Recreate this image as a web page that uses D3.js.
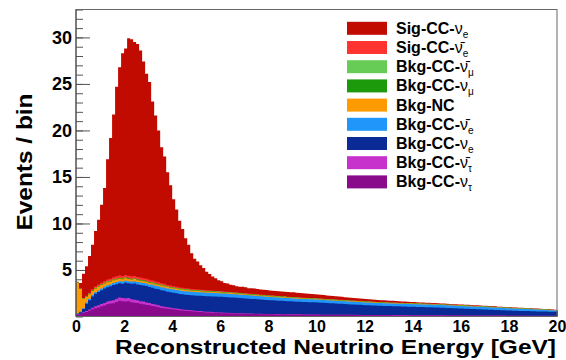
<!DOCTYPE html>
<html>
<head>
<meta charset="utf-8">
<script src="https://cdn.jsdelivr.net/npm/d3@7"></script>
<style>
  body { margin: 0; background: #fff; }
  text { font-family: "Liberation Sans", Arial, Helvetica, sans-serif; font-weight: bold; fill: #000; }
</style>
</head>
<body>
<div id="chart"></div>
<script>
// data: 160 bins of 0.125 GeV, 0 - 20 GeV, stacked from bottom (tau) to top (sig nue)
const binWidth = 0.125;
const xTicks = [0, 2, 4, 6, 8, 10, 12, 14, 16, 18, 20];
const yTicks = [5, 10, 15, 20, 25, 30];

const tau = [
  0.2,0.25,0.37,0.49,0.62,0.78,0.9,0.98,1.1,1.19,1.31,1.39,1.43,1.56,1.68,1.64,1.6,1.64,1.52,1.48,
  1.44,1.36,1.32,1.24,1.2,1.12,1.08,1.0,0.92,0.88,0.84,0.8,0.76,0.72,0.68,0.64,0.62,0.6,0.57,0.53,
  0.51,0.49,0.47,0.44,0.43,0.41,0.39,0.37,0.36,0.34,0.34,0.32,0.31,0.31,0.3,0.29,0.28,0.27,0.26,0.26,
  0.26,0.25,0.24,0.24,0.23,0.23,0.22,0.22,0.21,0.21,0.2,0.2,0.2,0.2,0.2,0.19,0.19,0.19,0.18,0.18,
  0.18,0.17,0.17,0.17,0.17,0.16,0.16,0.16,0.16,0.15,0.15,0.15,0.15,0.15,0.14,0.14,0.14,0.14,0.14,0.13,
  0.13,0.13,0.13,0.13,0.13,0.12,0.12,0.12,0.12,0.12,0.12,0.12,0.12,0.12,0.12,0.12,0.12,0.11,0.11,0.11,
  0.11,0.11,0.11,0.1,0.1,0.1,0.1,0.1,0.1,0.09,0.09,0.09,0.09,0.09,0.09,0.08,0.08,0.08,0.08,0.08,
  0.08,0.08,0.08,0.07,0.07,0.07,0.07,0.07,0.07,0.07,0.06,0.06,0.06,0.06,0.06,0.06,0.06,0.05,0.05,0.05
];
const tauBar = [
  0.05,0.05,0.08,0.11,0.13,0.17,0.2,0.22,0.25,0.26,0.29,0.31,0.32,0.34,0.37,0.36,0.35,0.36,0.33,0.32,
  0.31,0.29,0.28,0.26,0.25,0.23,0.22,0.2,0.18,0.17,0.16,0.15,0.14,0.13,0.12,0.11,0.1,0.1,0.09,0.09,
  0.09,0.09,0.08,0.08,0.07,0.07,0.07,0.07,0.06,0.06,0.06,0.06,0.06,0.05,0.05,0.05,0.05,0.05,0.05,0.04,
  0.04,0.04,0.04,0.04,0.04,0.04,0.04,0.04,0.04,0.04,0.04,0.04,0.03,0.03,0.03,0.03,0.03,0.03,0.03,0.03,
  0.03,0.03,0.03,0.03,0.03,0.03,0.03,0.03,0.03,0.03,0.03,0.03,0.03,0.03,0.03,0.03,0.03,0.03,0.03,0.03,
  0.03,0.03,0.03,0.03,0.03,0.03,0.03,0.03,0.03,0.03,0.03,0.02,0.02,0.02,0.02,0.02,0.02,0.02,0.02,0.02,
  0.02,0.02,0.02,0.02,0.02,0.02,0.02,0.02,0.02,0.02,0.02,0.02,0.02,0.02,0.02,0.02,0.02,0.02,0.02,0.02,
  0.02,0.02,0.02,0.02,0.02,0.02,0.02,0.02,0.02,0.02,0.02,0.02,0.02,0.02,0.02,0.02,0.02,0.02,0.02,0.02
];
const nue = [
  0.05,0.17,0.35,0.78,1.01,1.2,1.34,1.43,1.47,1.56,1.55,1.55,1.64,1.58,1.53,1.53,1.67,1.57,1.67,1.76,
  1.7,1.74,1.73,1.77,1.71,1.75,1.69,1.73,1.72,1.71,1.65,1.65,1.64,1.64,1.63,1.63,1.63,1.62,1.62,1.64,
  1.64,1.64,1.65,1.66,1.67,1.67,1.68,1.68,1.69,1.69,1.67,1.67,1.66,1.65,1.64,1.63,1.61,1.6,1.58,1.57,
  1.55,1.54,1.52,1.5,1.48,1.47,1.46,1.44,1.43,1.41,1.41,1.39,1.38,1.36,1.35,1.34,1.33,1.32,1.33,1.32,
  1.3,1.29,1.27,1.25,1.23,1.23,1.21,1.19,1.17,1.16,1.14,1.12,1.1,1.09,1.08,1.07,1.05,1.04,1.02,1.01,
  1.0,0.99,0.98,0.97,0.96,0.96,0.95,0.94,0.93,0.92,0.91,0.91,0.9,0.89,0.88,0.87,0.86,0.87,0.86,0.85,
  0.84,0.82,0.81,0.8,0.79,0.77,0.76,0.74,0.74,0.73,0.72,0.7,0.69,0.67,0.66,0.66,0.65,0.63,0.62,0.6,
  0.59,0.57,0.57,0.56,0.55,0.54,0.53,0.51,0.51,0.49,0.5,0.48,0.48,0.47,0.46,0.46,0.45,0.45,0.44,0.43
];
const nueBar = [
  0.05,0.08,0.1,0.12,0.14,0.15,0.16,0.17,0.18,0.19,0.2,0.2,0.21,0.22,0.22,0.22,0.23,0.23,0.23,0.24,
  0.25,0.26,0.27,0.28,0.29,0.3,0.31,0.32,0.33,0.34,0.35,0.35,0.36,0.36,0.37,0.37,0.37,0.38,0.38,0.38,
  0.38,0.38,0.38,0.38,0.38,0.38,0.38,0.38,0.37,0.37,0.37,0.37,0.37,0.37,0.36,0.36,0.36,0.36,0.36,0.36,
  0.35,0.35,0.35,0.35,0.35,0.34,0.34,0.34,0.34,0.34,0.33,0.33,0.33,0.33,0.32,0.32,0.32,0.32,0.31,0.31,
  0.31,0.31,0.31,0.31,0.31,0.3,0.3,0.3,0.3,0.3,0.3,0.3,0.3,0.3,0.3,0.29,0.29,0.29,0.29,0.29,
  0.29,0.29,0.29,0.29,0.29,0.29,0.29,0.29,0.29,0.29,0.29,0.29,0.29,0.29,0.29,0.29,0.29,0.28,0.28,0.28,
  0.28,0.28,0.28,0.28,0.28,0.28,0.28,0.28,0.27,0.27,0.27,0.27,0.27,0.27,0.27,0.26,0.26,0.26,0.26,0.26,
  0.26,0.26,0.25,0.25,0.25,0.24,0.24,0.24,0.23,0.23,0.22,0.22,0.21,0.2,0.19,0.18,0.17,0.16,0.15,0.14
];
const nc = [
  3.3,2.4,1.0,0.6,0.5,0.45,0.42,0.4,0.38,0.35,0.33,0.3,0.3,0.28,0.27,0.26,0.25,0.24,0.23,0.22,
  0.21,0.2,0.2,0.19,0.19,0.18,0.18,0.17,0.17,0.16,0.16,0.15,0.15,0.15,0.14,0.14,0.14,0.13,0.13,0.13,
  0.13,0.12,0.12,0.12,0.12,0.11,0.11,0.11,0.11,0.1,0.1,0.1,0.1,0.1,0.09,0.09,0.09,0.09,0.09,0.09,
  0.08,0.08,0.08,0.08,0.08,0.08,0.08,0.08,0.08,0.08,0.07,0.07,0.07,0.07,0.07,0.07,0.07,0.07,0.07,0.07,
  0.06,0.06,0.06,0.06,0.06,0.06,0.06,0.06,0.06,0.06,0.06,0.06,0.06,0.06,0.06,0.06,0.06,0.06,0.06,0.06,
  0.05,0.05,0.05,0.05,0.05,0.05,0.05,0.05,0.05,0.05,0.05,0.05,0.05,0.05,0.05,0.05,0.05,0.05,0.05,0.05,
  0.04,0.04,0.04,0.04,0.04,0.04,0.04,0.04,0.04,0.04,0.04,0.04,0.04,0.04,0.04,0.04,0.04,0.04,0.04,0.04,
  0.03,0.03,0.03,0.03,0.03,0.03,0.03,0.03,0.03,0.03,0.03,0.03,0.03,0.03,0.03,0.03,0.03,0.03,0.03,0.03
];
const numu = [
  0.02,0.03,0.03,0.04,0.04,0.04,0.05,0.05,0.05,0.05,0.05,0.06,0.06,0.06,0.06,0.06,0.06,0.06,0.06,0.06,
  0.06,0.06,0.06,0.06,0.06,0.06,0.06,0.06,0.06,0.06,0.05,0.05,0.05,0.05,0.05,0.05,0.05,0.05,0.05,0.05,
  0.05,0.05,0.05,0.05,0.05,0.05,0.05,0.05,0.05,0.05,0.04,0.04,0.04,0.04,0.04,0.04,0.04,0.04,0.04,0.04,
  0.04,0.04,0.04,0.04,0.04,0.04,0.04,0.04,0.04,0.04,0.03,0.03,0.03,0.03,0.03,0.03,0.03,0.03,0.03,0.03,
  0.03,0.03,0.03,0.03,0.03,0.03,0.03,0.03,0.03,0.03,0.03,0.03,0.03,0.03,0.03,0.03,0.03,0.03,0.03,0.03,
  0.02,0.02,0.02,0.02,0.02,0.02,0.02,0.02,0.02,0.02,0.02,0.02,0.02,0.02,0.02,0.02,0.02,0.02,0.02,0.02,
  0.02,0.02,0.02,0.02,0.02,0.02,0.02,0.02,0.02,0.02,0.02,0.02,0.02,0.02,0.02,0.02,0.02,0.02,0.02,0.02,
  0.01,0.01,0.01,0.01,0.01,0.01,0.01,0.01,0.01,0.01,0.01,0.01,0.01,0.01,0.01,0.01,0.01,0.01,0.01,0.01
];
const numuBar = [
  0.01,0.01,0.01,0.01,0.01,0.01,0.02,0.02,0.02,0.02,0.02,0.02,0.02,0.02,0.02,0.02,0.02,0.02,0.02,0.02,
  0.02,0.02,0.02,0.02,0.02,0.02,0.02,0.02,0.02,0.02,0.02,0.02,0.02,0.02,0.02,0.02,0.02,0.02,0.02,0.02,
  0.02,0.02,0.02,0.02,0.02,0.02,0.02,0.02,0.02,0.02,0.02,0.02,0.02,0.02,0.02,0.02,0.02,0.02,0.02,0.02,
  0.02,0.02,0.02,0.02,0.02,0.02,0.02,0.02,0.02,0.02,0.01,0.01,0.01,0.01,0.01,0.01,0.01,0.01,0.01,0.01,
  0.01,0.01,0.01,0.01,0.01,0.01,0.01,0.01,0.01,0.01,0.01,0.01,0.01,0.01,0.01,0.01,0.01,0.01,0.01,0.01,
  0.01,0.01,0.01,0.01,0.01,0.01,0.01,0.01,0.01,0.01,0.01,0.01,0.01,0.01,0.01,0.01,0.01,0.01,0.01,0.01,
  0.01,0.01,0.01,0.01,0.01,0.01,0.01,0.01,0.01,0.01,0.01,0.01,0.01,0.01,0.01,0.01,0.01,0.01,0.01,0.01,
  0.01,0.01,0.01,0.01,0.01,0.01,0.01,0.01,0.01,0.01,0.01,0.01,0.01,0.01,0.01,0.01,0.01,0.01,0.01,0.01
];
const sigNueBar = [
  0,0.02,0.05,0.08,0.1,0.12,0.14,0.16,0.18,0.2,0.22,0.24,0.25,0.26,0.27,0.27,0.27,0.27,0.26,0.26,
  0.25,0.25,0.24,0.23,0.22,0.21,0.2,0.19,0.18,0.17,0.16,0.15,0.14,0.13,0.12,0.12,0.11,0.1,0.1,0.09,
  0.09,0.08,0.08,0.08,0.07,0.07,0.07,0.06,0.06,0.06,0.06,0.05,0.05,0.05,0.05,0.05,0.05,0.04,0.04,0.04,
  0.04,0.04,0.04,0.04,0.04,0.04,0.03,0.03,0.03,0.03,0.03,0.03,0.03,0.03,0.03,0.03,0.03,0.03,0.03,0.03,
  0.03,0.03,0.03,0.03,0.03,0.03,0.03,0.03,0.03,0.03,0.03,0.03,0.03,0.03,0.03,0.03,0.03,0.03,0.03,0.03,
  0.02,0.02,0.02,0.02,0.02,0.02,0.02,0.02,0.02,0.02,0.02,0.02,0.02,0.02,0.02,0.02,0.02,0.02,0.02,0.02,
  0.02,0.02,0.02,0.02,0.02,0.02,0.02,0.02,0.02,0.02,0.02,0.02,0.02,0.02,0.02,0.02,0.02,0.02,0.02,0.02,
  0.01,0.01,0.01,0.01,0.01,0.01,0.01,0.01,0.01,0.01,0.01,0.01,0.01,0.01,0.01,0.01,0.01,0.01,0.01,0.01
];
const sigNue = [
  0.05,0.6,2.6,3.17,3.95,4.78,5.97,6.97,8.37,9.98,12.93,15.13,17.47,20.38,22.38,23.94,24.35,25.51,25.48,25.14,
  25.06,24.42,23.28,22.05,21.26,19.23,17.84,16.31,14.62,13.69,12.11,10.78,9.34,8.3,7.17,6.32,5.36,4.7,3.84,3.27,
  2.99,2.63,2.35,1.97,1.76,1.52,1.33,1.16,1.08,0.91,0.89,0.77,0.74,0.66,0.65,0.67,0.65,0.58,0.61,0.58,
  0.57,0.54,0.55,0.54,0.52,0.52,0.52,0.51,0.51,0.49,0.51,0.5,0.52,0.49,0.48,0.48,0.47,0.45,0.43,0.42,
  0.42,0.4,0.39,0.38,0.37,0.36,0.35,0.34,0.33,0.31,0.3,0.29,0.28,0.26,0.25,0.24,0.24,0.22,0.21,0.21,
  0.23,0.22,0.21,0.2,0.19,0.18,0.17,0.16,0.15,0.14,0.13,0.12,0.12,0.11,0.1,0.1,0.09,0.09,0.08,0.08,
  0.08,0.08,0.08,0.07,0.07,0.07,0.07,0.07,0.06,0.06,0.06,0.06,0.06,0.06,0.05,0.05,0.05,0.05,0.05,0.05,
  0.05,0.05,0.05,0.04,0.04,0.04,0.04,0.04,0.04,0.04,0.04,0.04,0.04,0.04,0.04,0.03,0.03,0.03,0.03,0.03
];

// stack order bottom -> top, legend is listed top -> bottom
const layers = [
  { key: "tau",       values: tau,       color: "#8a0a8c", pre: "Bkg-CC-", bar: false, sub: "τ" },
  { key: "tauBar",    values: tauBar,    color: "#c832cc", pre: "Bkg-CC-", bar: true,  sub: "τ" },
  { key: "nue",       values: nue,       color: "#0a2b95", pre: "Bkg-CC-", bar: false, sub: "e" },
  { key: "nueBar",    values: nueBar,    color: "#2196fa", pre: "Bkg-CC-", bar: true,  sub: "e" },
  { key: "nc",        values: nc,        color: "#ff9a00", pre: "Bkg-NC",  bar: null,  sub: "" },
  { key: "numu",      values: numu,      color: "#1c9a0c", pre: "Bkg-CC-", bar: false, sub: "μ" },
  { key: "numuBar",   values: numuBar,   color: "#66cc55", pre: "Bkg-CC-", bar: true,  sub: "μ" },
  { key: "sigNueBar", values: sigNueBar, color: "#ff3430", pre: "Sig-CC-", bar: true,  sub: "e" },
  { key: "sigNue",    values: sigNue,    color: "#c20b00", pre: "Sig-CC-", bar: false, sub: "e" }
];

const W = 566, H = 360;
const plotLeft = 76, plotRight = 557, plotTop = 9.5, plotBottom = 316.5;

const svg = d3.select("#chart").append("svg").attr("width", W).attr("height", H);

const x = d3.scaleLinear().domain([0, 20]).range([plotLeft, plotRight]);
const y = d3.scaleLinear().domain([0, 33]).range([plotBottom, plotTop]);

// rows for d3.stack, one per bin low edge, plus closing edge at 20
const rows = tau.map((_, i) => {
  const r = { e: i * binWidth };
  layers.forEach(l => r[l.key] = l.values[i]);
  return r;
});
rows.push(Object.assign({}, rows[rows.length - 1], { e: 20 }));

const stacked = d3.stack().keys(layers.map(l => l.key))(rows);

// axes ticks (under the histogram like ROOT)
const yMinor = d3.range(0, 34, 1);
svg.append("g").attr("transform", `translate(${plotLeft},0)`)
  .call(d3.axisLeft(y).tickValues(yMinor).tickSize(-7).tickFormat(""))
  .call(g => g.select(".domain").remove())
  .selectAll("line").attr("stroke", "#555");

const yAxis = svg.append("g").attr("transform", `translate(${plotLeft},0)`)
  .call(d3.axisLeft(y).tickValues(yTicks).tickSize(-14).tickPadding(4))
  .call(g => g.select(".domain").remove());
yAxis.selectAll("line").attr("stroke", "#555");
yAxis.selectAll("text").attr("font-size", 18).attr("font-family", null).attr("fill", "#000");

const xAxis = svg.append("g").attr("transform", `translate(0,${plotBottom})`)
  .call(d3.axisBottom(x).tickValues(xTicks).tickSize(-6).tickPadding(4))
  .call(g => g.select(".domain").remove());
xAxis.selectAll("line").attr("stroke", "#555");
xAxis.selectAll("text").attr("font-size", 16).attr("font-family", null).attr("fill", "#000");

// histogram: cumulative fills drawn from the top layer down
const area = d3.area()
  .curve(d3.curveStepAfter)
  .x(d => x(d.data.e))
  .y0(y(0))
  .y1(d => y(d[1]));

const hist = svg.append("g");
for (let k = stacked.length - 1; k >= 0; k--) {
  hist.append("path")
    .datum(stacked[k])
    .attr("d", area)
    .attr("fill", layers[k].color);
}

// frame
svg.append("rect")
  .attr("x", plotLeft).attr("y", plotTop)
  .attr("width", plotRight - plotLeft).attr("height", plotBottom - plotTop)
  .attr("fill", "none").attr("stroke", "#666").attr("stroke-width", 1);
svg.append("line")
  .attr("x1", plotLeft).attr("x2", plotLeft).attr("y1", plotTop).attr("y2", plotBottom)
  .attr("stroke", "#444");

// axis titles
svg.append("text")
  .attr("x", 556).attr("y", 354)
  .attr("text-anchor", "end")
  .attr("font-size", 20)
  .attr("textLength", 441).attr("lengthAdjust", "spacingAndGlyphs")
  .text("Reconstructed Neutrino Energy [GeV]");

svg.append("text")
  .attr("transform", "translate(32,162) rotate(-90)")
  .attr("text-anchor", "middle")
  .attr("font-size", 22)
  .attr("textLength", 137).attr("lengthAdjust", "spacingAndGlyphs")
  .text("Events / bin");

// legend
const legend = svg.append("g");
const legendItems = layers.slice().reverse();
legendItems.forEach((l, i) => {
  const cy = 28.3 + i * 19.2;
  legend.append("rect")
    .attr("x", 347).attr("y", cy - 6.5)
    .attr("width", 40).attr("height", 13)
    .attr("fill", l.color);
  const t = legend.append("text")
    .attr("x", 396).attr("y", cy + 5.5)
    .attr("font-size", 16);
  t.append("tspan").text(l.pre);
  if (l.bar !== null) {
    t.append("tspan").attr("font-weight", "normal").text(l.bar ? "ν\u0304" : "ν");
    t.append("tspan").attr("font-weight", "normal").attr("font-size", 10).attr("dy", 4).text(l.sub);
  }
});
</script>
</body>
</html>
